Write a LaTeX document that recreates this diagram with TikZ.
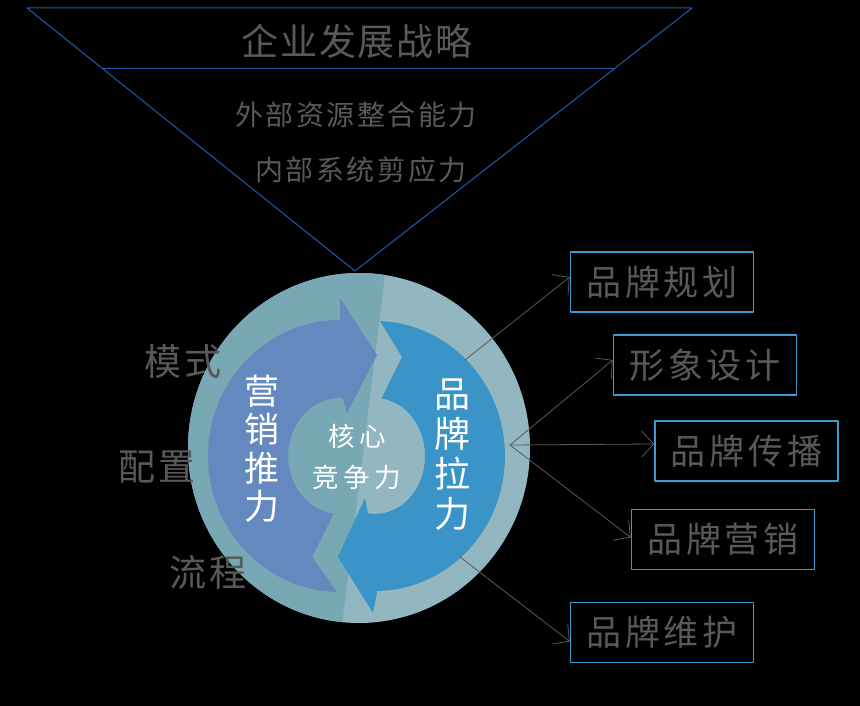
\documentclass[tikz,border=0pt]{standalone}
\usepackage{fontspec}
\newfontfamily\cjk{Noto Sans CJK SC}
\usetikzlibrary{arrows.meta}
\definecolor{ringL}{HTML}{78A8B4}
\definecolor{ringR}{HTML}{93B7C1}
\definecolor{pushC}{HTML}{6389BE}
\definecolor{pullC}{HTML}{3A94C7}
\definecolor{funnelC}{HTML}{1F5CAB}
\definecolor{txtC}{HTML}{595959}
\definecolor{boxC}{HTML}{3B9BD3}

\begin{document}
\begin{tikzpicture}[x=1pt, y=-1pt, line join=round, line cap=round,
  grey/.style={text=txtC, inner sep=0pt},
  title/.style={grey, font=\cjk\fontsize{37}{42}\selectfont\addfontfeature{LetterSpace=5}},
  sub/.style={grey, font=\cjk\fontsize{28}{30}\selectfont\addfontfeature{LetterSpace=9}},
  side/.style={grey, font=\cjk\fontsize{37}{40}\selectfont\addfontfeature{LetterSpace=10}},
  vert/.style={text=white, inner sep=0pt, align=center},
  brand/.style={grey, draw=boxC, line width=1.5pt, minimum width=183pt, minimum height=60pt,
    font=\cjk\fontsize{35}{38}\selectfont\addfontfeature{LetterSpace=11}},
  link/.style={txtC, line width=0.8pt, -{Straight Barb[length=12pt, width=26pt]}}]
\fill[black] (0,0) rectangle (860,706);
\useasboundingbox (0,0) rectangle (860,706);
\coordinate (A) at (27,8);
\coordinate (B) at (692,8);
\coordinate (V) at (355,271);
\coordinate (P) at (103,69);
\coordinate (Q) at (614,69);
\draw[funnelC, line width=1pt] (A) -- (B) -- (V) -- cycle;
\draw[funnelC, line width=1pt] (P) -- (Q);
\node[title] (ttl) at (357,41) {企业发展战略};
\node[sub] (ext) at (356,115) {外部资源整合能力};
\node[sub] (int) at (361,170) {内部系统剪应力};
\coordinate (O) at (359,448);
\fill[ringR] (O) ellipse [x radius=171pt, y radius=175pt];
\begin{scope}
\clip (O) ellipse [x radius=171pt, y radius=175pt];
\fill[ringL] (388,250) -- (339,650) -- (150,650) -- (150,250) -- cycle;
\end{scope}
\begin{scope}[shift={(340,456)}, y=1pt]
\fill[pushC] (268.7:132pt and 136pt) arc[start angle=268.7, end angle=90, x radius=132pt, y radius=136pt]
  -- (0,158) -- (37,101) -- (7,43) -- (87:52pt and 58pt)
  arc[start angle=87, end angle=263, x radius=52pt, y radius=58pt] -- (-28,-101) -- cycle;
\end{scope}
\begin{scope}[shift={(375,456)}, y=1pt]
\fill[pullC] (87.8:130pt and 135pt) arc[start angle=87.8, end angle=-89, x radius=130pt, y radius=135pt]
  -- (-2,-157) -- (-37,-101) -- (-10,-42) -- (-98:50pt and 58pt)
  arc[start angle=-98, end angle=82.6, x radius=50pt, y radius=58pt] -- (27,99) -- cycle;
\end{scope}
\node[vert, font=\cjk\fontsize{35}{38.5}\selectfont] (push) at (262,449) {营\\销\\推\\力};
\node[vert, font=\cjk\fontsize{36}{40}\selectfont] (pull) at (452.5,455) {品\\牌\\拉\\力};
\node[vert, font=\cjk\fontsize{26.5}{41}\selectfont\addfontfeature{LetterSpace=17}] (core) at (357,457) {核心\\竞争力};
\node[side] (ms) at (183,361) {模式};
\node[side] (pz) at (157,467) {配置};
\node[side] (lc) at (208,572) {流程};
\node[brand] (b1) at (662,282) {品牌规划};
\node[brand] (b2) at (705,365) {形象设计};
\node[brand] (b3) at (746.5,451) {品牌传播};
\node[brand] (b4) at (723,539.5) {品牌营销};
\node[brand] (b5) at (662,632.5) {品牌维护};
\coordinate (s1) at (465,360);
\coordinate (s2) at (510,445);
\coordinate (s5) at (460,557);
\draw[link] (s1) -- ([yshift=5pt]b1.west);
\draw[link] (s2) -- ([yshift=5pt]b2.west);
\draw[link] (s2) -- ([yshift=7pt]b3.west);
\draw[link] (s2) -- ([yshift=2pt]b4.west);
\draw[link] (s5) -- ([yshift=-9pt]b5.west);
\end{tikzpicture}
\end{document}
